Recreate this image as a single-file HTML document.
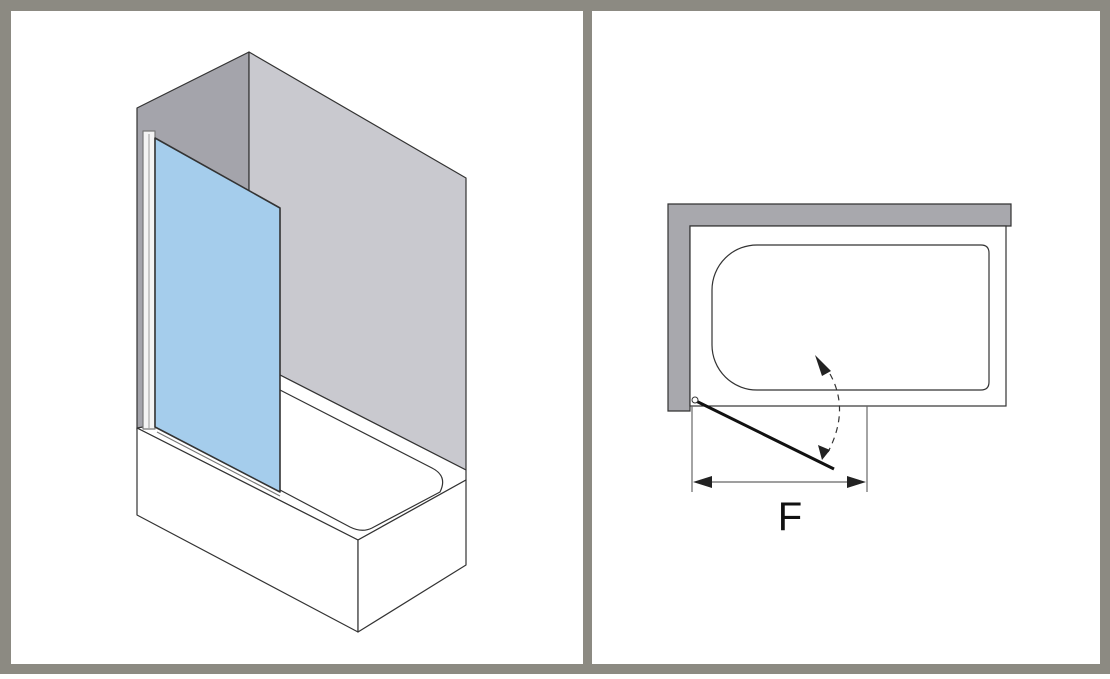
<!DOCTYPE html>
<html><head><style>
html,body{margin:0;padding:0;background:#fff;}
</style></head><body>
<svg width="1110" height="674" viewBox="0 0 1110 674" xmlns="http://www.w3.org/2000/svg">
<rect x="0" y="0" width="1110" height="674" fill="#8c8a82"/>
<rect x="11" y="11" width="572" height="653" fill="#fff"/>
<rect x="592" y="11" width="508" height="653" fill="#fff"/>
<g stroke="#333" stroke-width="1.2" fill="none" stroke-linejoin="round">
<!-- left wall -->
<polygon points="137,108 249,52 249,420 137,430" fill="#a4a4ab"/>
<!-- back wall -->
<polygon points="249,52 466,178 466,470 280,375 249,360" fill="#c9c9cf"/>
<!-- tub -->
<polygon points="137,428 155,425 280,375 466,470 466,480 358,540" fill="#fff"/>
<path d="M280,390 L432,468 Q448,476 440,492 L372,528 Q362,533 350,527 L280,490" />
<polygon points="137,428 358,540 358,632 137,515" fill="#fff"/>
<polygon points="358,540 466,480 466,565 358,632" fill="#fff"/>
<!-- hinge profile -->
<rect x="143" y="131" width="12" height="298" fill="#f4f4f4" stroke="#777"/>
<line x1="149" y1="134" x2="149" y2="428" stroke="#aaa"/>
<!-- glass -->
<polygon points="155,138 280,208 280,492 155,427" fill="#a5cdec" stroke="#333" stroke-width="1.6"/>
<line x1="157" y1="432" x2="280" y2="496" stroke="#777"/>
</g>
<!-- right plan -->
<g stroke="#333" stroke-width="1.2" fill="none">
<polygon points="668,204 1011,204 1011,226 690,226 690,411 668,411" fill="#a8a8ad"/>
<rect x="690" y="226" width="316" height="180" fill="#fff"/>
<path d="M758,245 L981,245 Q989,245 989,253 L989,382 Q989,390 981,390 L758,390 A45,45 0 0 1 712,345 L712,290 A45,45 0 0 1 758,245 Z"/>
<line x1="692" y1="406" x2="692" y2="492" stroke="#666"/>
<line x1="867" y1="406" x2="867" y2="492" stroke="#666"/>
<line x1="700" y1="482" x2="859" y2="482" stroke="#666"/>
<path d="M830,374 Q850,410 828,452" stroke-dasharray="6,5"/>
</g>
<polygon points="693,482 712,476 712,488" fill="#222"/>
<polygon points="866,482 847,476 847,488" fill="#222"/>
<polygon points="815,355 831,371 822,376" fill="#222"/>
<polygon points="822,460 818,445 830,450" fill="#222"/>
<line x1="696" y1="401" x2="834" y2="469" stroke="#111" stroke-width="3"/>
<circle cx="695" cy="400" r="3" fill="#fff" stroke="#333"/>
<text x="790" y="530" font-family="Liberation Sans, sans-serif" font-size="40" fill="#111" text-anchor="middle">F</text>
</svg>
</body></html>
